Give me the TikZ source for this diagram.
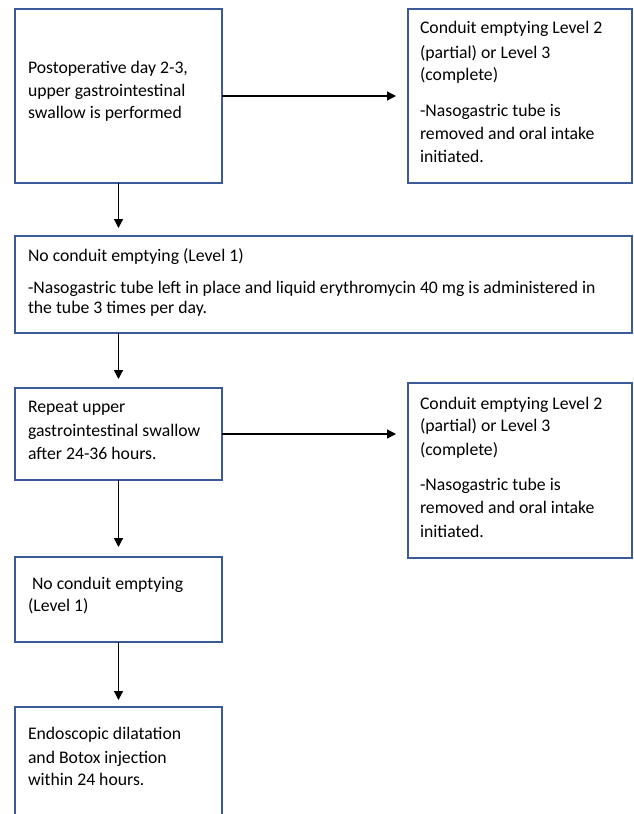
\documentclass[tikz,border=0pt]{standalone}
\usepackage{fontspec}
\setmainfont{Carlito}
\usetikzlibrary{arrows.meta}
\definecolor{boxblue}{RGB}{59,90,154}
\begin{document}
\begin{tikzpicture}[x=1pt,y=-1pt,
  box/.style={draw=boxblue,line width=1.4pt,fill=white,anchor=north west,inner sep=0pt,outer sep=0pt},
  txt/.style={anchor=base west,inner sep=0pt,outer sep=0pt,font=\fontsize{17.7}{21}\selectfont},
  arr/.style={line width=1.3pt,-{Triangle[width=9pt,length=9pt]}}]
\useasboundingbox (0,0) rectangle (633,814);
\clip (0,0) rectangle (633,814);
% boxes
\node[box,minimum width=207pt,minimum height=174pt] (b1) at (15,9) {};
\node[box,minimum width=224pt,minimum height=174pt] (b2) at (408,9) {};
\node[box,minimum width=617pt,minimum height=97pt] (b3) at (15,236) {};
\node[box,minimum width=207pt,minimum height=92pt] (b4) at (15,388) {};
\node[box,minimum width=224pt,minimum height=175pt] (b5) at (408,383) {};
\node[box,minimum width=207pt,minimum height=85pt] (b6) at (15,557) {};
\node[box,minimum width=207pt,minimum height=130pt] (b7) at (15,707) {};
% texts
\node[txt] (t1a) at (28,73) {Postoperative day 2-3,};
\node[txt] (t1b) at (28,96) {upper gastrointestinal};
\node[txt] (t1c) at (28,118) {swallow is performed};
\node[txt] (t2a) at (420,33) {Conduit emptying Level 2};
\node[txt] (t2b) at (420,58) {(partial) or Level 3};
\node[txt] (t2c) at (420,80) {(complete)};
\node[txt] (t2d) at (420,116) {-Nasogastric tube is};
\node[txt] (t2e) at (420,139) {removed and oral intake};
\node[txt] (t2f) at (420,162) {initiated.};
\node[txt] (t3a) at (28,261) {No conduit emptying (Level 1)};
\node[txt] (t3b) at (28,293) {-Nasogastric tube left in place and liquid erythromycin 40 mg is administered in};
\node[txt] (t3c) at (28,313) {the tube 3 times per day.};
\node[txt] (t4a) at (28,412) {Repeat upper};
\node[txt] (t4b) at (28,436) {gastrointestinal swallow};
\node[txt] (t4c) at (28,459) {after 24-36 hours.};
\node[txt] (t5a) at (420,409) {Conduit emptying Level 2};
\node[txt] (t5b) at (420,431) {(partial) or Level 3};
\node[txt] (t5c) at (420,455) {(complete)};
\node[txt] (t5d) at (420,490) {-Nasogastric tube is};
\node[txt] (t5e) at (420,513) {removed and oral intake};
\node[txt] (t5f) at (420,537) {initiated.};
\node[txt] (t6a) at (32,589) {No conduit emptying};
\node[txt] (t6b) at (28,611) {(Level 1)};
\node[txt] (t7a) at (28,739) {Endoscopic dilatation};
\node[txt] (t7b) at (28,763) {and Botox injection};
\node[txt] (t7c) at (28,785) {within 24 hours.};
% connectors
\draw[arr,shorten >=12pt] (b1.east) -- (b1.east -| b2.west);
\draw[arr,shorten >=8pt] (b1.south) -- (b1.south |- b3.north);
\draw[arr,shorten >=9pt] (b3.south -| b1.south) -- (b4.north);
\draw[arr,shorten >=12pt] (b4.east) -- (b4.east -| b5.west);
\draw[arr,shorten >=10pt] (b4.south) -- (b6.north);
\draw[arr,shorten >=7pt] (b6.south) -- (b7.north);
\end{tikzpicture}
\end{document}
